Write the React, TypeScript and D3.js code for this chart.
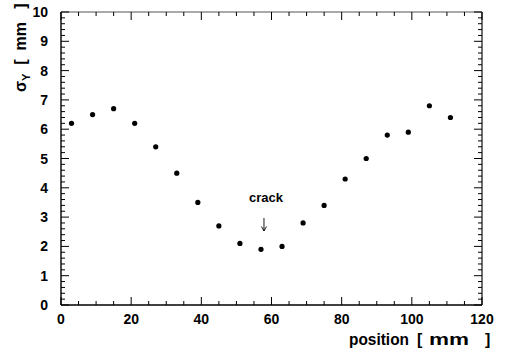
import React from "react";
import * as d3 from "d3";

const positions = [3, 9, 15, 21, 27, 33, 39, 45, 51, 57, 63, 69, 75, 81, 87, 93, 99, 105, 111];
const sigmaY = [6.2, 6.5, 6.7, 6.2, 5.4, 4.5, 3.5, 2.7, 2.1, 1.9, 2.0, 2.8, 3.4, 4.3, 5.0, 5.8, 5.9, 6.8, 6.4];
const xTicks = [0, 20, 40, 60, 80, 100, 120];
const yTicks = [0, 1, 2, 3, 4, 5, 6, 7, 8, 9, 10];
const annotation = { label: "crack", x: 57 };

const W = 506, H = 353;
const L = 61, R = 482, T = 12, B = 305;
const font = "'Liberation Sans', Arial, Helvetica, sans-serif";

export default function App() {
  const x = d3.scaleLinear().domain([0, 120]).range([L, R]);
  const y = d3.scaleLinear().domain([0, 10]).range([B, T]);
  const xMinor = d3.range(0, 120.001, 5);
  const yMinor = d3.range(0, 10.001, 0.2);
  const ax = x(annotation.x);
  return (
    <svg width={W} height={H} style={{ position: "absolute", left: 0, top: 0 }}>
      <rect width={W} height={H} fill="#fff" />
      <line x1={L} x2={R} y1={T} y2={T} stroke="#555" strokeWidth={1} />
      <line x1={R} x2={R} y1={T} y2={B} stroke="#222" strokeWidth={1.3} />
      <line x1={L} x2={L} y1={T} y2={B} stroke="#000" strokeWidth={1.4} />
      <line x1={L} x2={R} y1={B} y2={B} stroke="#000" strokeWidth={1.4} />
      {yMinor.map((v, i) => {
        const major = Math.abs(v - Math.round(v)) < 1e-6;
        const len = major ? 8 : 4;
        return (
          <g key={"ym" + i}>
            <line x1={L} x2={L + len} y1={y(v)} y2={y(v)} stroke="#000" strokeWidth={1} />
            <line x1={R} x2={R - len} y1={y(v)} y2={y(v)} stroke="#000" strokeWidth={1} />
          </g>
        );
      })}
      {xMinor.map((v, i) => {
        const major = v % 20 === 0;
        const len = major ? 8 : 4;
        return (
          <g key={"xm" + i}>
            <line x1={x(v)} x2={x(v)} y1={B} y2={B - len} stroke="#000" strokeWidth={1} />
            <line x1={x(v)} x2={x(v)} y1={T} y2={T + len} stroke="#000" strokeWidth={1} />
          </g>
        );
      })}
      {yTicks.map((v) => (
        <text key={"yl" + v} x={48} y={y(v) + 5} textAnchor="end" fontFamily={font} fontWeight="bold" fontSize={14}>
          {v}
        </text>
      ))}
      {xTicks.map((v) => (
        <text key={"xl" + v} x={x(v)} y={324} textAnchor="middle" fontFamily={font} fontWeight="bold" fontSize={14}>
          {v}
        </text>
      ))}
      <text x={349} y={345} fontFamily={font} fontWeight="bold" fontSize={16} textLength={60} lengthAdjust="spacingAndGlyphs">position</text>
      <text x={417} y={345} fontFamily={font} fontWeight="bold" fontSize={16}>[</text>
      <text x={429} y={345} fontFamily={font} fontWeight="bold" fontSize={16} textLength={40} lengthAdjust="spacingAndGlyphs">mm</text>
      <text x={485} y={345} fontFamily={font} fontWeight="bold" fontSize={16}>]</text>
      <text
        transform="translate(26,92) rotate(-90)"
        textAnchor="start"
        fontFamily={font}
        fontWeight="bold"
        fontSize={16}
        style={{ whiteSpace: "pre" }}
      >
        <tspan>σ</tspan>
        <tspan fontSize={11} dy={4}>Y</tspan>
        <tspan dy={-4}>  [  mm   ]</tspan>
      </text>
      {positions.map((p, i) => (
        <circle key={"pt" + i} cx={x(p)} cy={y(sigmaY[i])} r={2.6} fill="#000" />
      ))}
      <text x={ax + 5} y={202} textAnchor="middle" fontFamily={font} fontWeight="bold" fontSize={13}>
        {annotation.label}
      </text>
      <line x1={ax + 3} x2={ax + 3} y1={218} y2={231} stroke="#000" strokeWidth={0.9} />
      <path d={`M${ax + 0.5},${226.5} L${ax + 3},${231} L${ax + 5.5},${226.5}`} fill="none" stroke="#000" strokeWidth={0.9} />
    </svg>
  );
}
